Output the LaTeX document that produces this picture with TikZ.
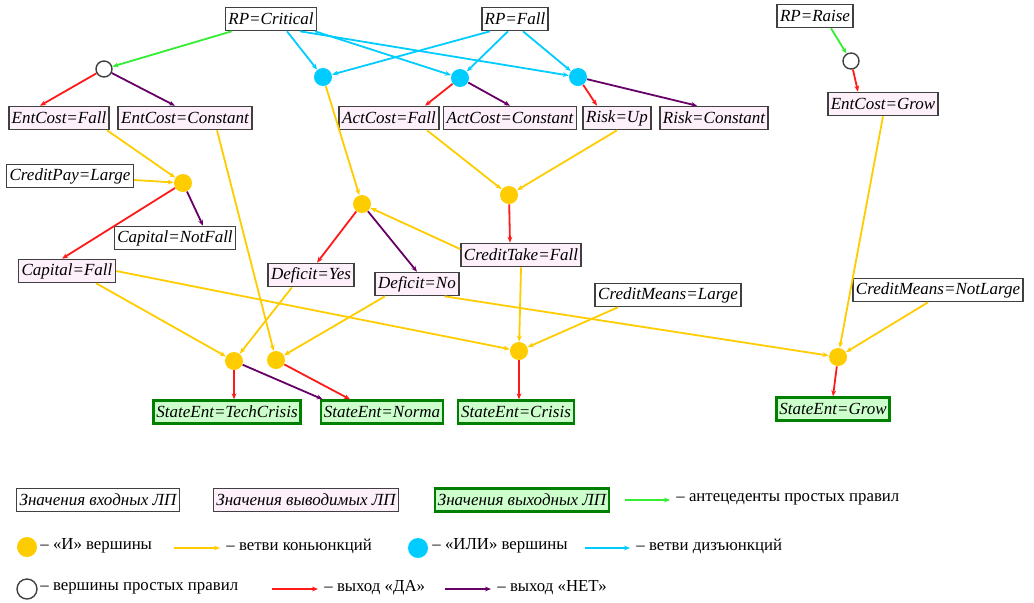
\documentclass[tikz,border=0pt]{standalone}
\usepackage{fontspec}
\setmainfont{Liberation Serif}
\usetikzlibrary{arrows.meta}
\definecolor{andcol}{HTML}{FFCC00}
\definecolor{orcol}{HTML}{00CCFF}
\definecolor{yescol}{HTML}{FF1A1A}
\definecolor{nocol}{HTML}{660066}
\definecolor{antcol}{HTML}{33EE33}
\definecolor{pinkfill}{HTML}{FDF0FB}
\definecolor{greenfill}{HTML}{CCFFCC}
\definecolor{greenline}{HTML}{008000}
\definecolor{boxline}{HTML}{404040}
\tikzstyle{lp}=[draw=boxline,line width=0.8pt,fill=white,inner xsep=1.5pt,inner ysep=0pt,minimum height=11.5pt,font=\fontsize{8.5}{10}\selectfont\itshape]
\tikzstyle{lpin}=[lp]
\tikzstyle{lpder}=[lp,fill=pinkfill]
\tikzstyle{lpout}=[lp,draw=greenline,line width=1.2pt,fill=greenfill]
\tikzstyle{andv}=[circle,fill=andcol,inner sep=0pt,minimum size=9pt]
\tikzstyle{orv}=[circle,fill=orcol,inner sep=0pt,minimum size=9pt]
\tikzstyle{simv}=[circle,draw=boxline,fill=white,line width=0.7pt,inner sep=0pt,minimum size=8pt]
\tikzstyle{br}=[line width=0.9pt,-{Stealth[length=3pt,width=2.4pt]}]
\tikzstyle{conj}=[br,andcol]
\tikzstyle{disj}=[br,orcol]
\tikzstyle{yesbr}=[br,yescol]
\tikzstyle{nobr}=[br,nocol]
\tikzstyle{antbr}=[br,antcol]
\tikzstyle{legtext}=[anchor=west,inner sep=0pt,font=\fontsize{8.4}{10}\selectfont]

\begin{document}
\begin{tikzpicture}[x=0.5pt,y=-0.5pt]
\useasboundingbox (0,0) rectangle (1034,602);
	% input values
	\node[lpin] (crit) at (271,19) {RP=Critical};
	\node[lpin] (fall) at (515,19) {RP=Fall};
	\node[lpin] (raise) at (815,16) {RP=Raise};
	\node[lpin] (crpay) at (70,176) {CreditPay=Large};
	\node[lpin] (capnf) at (175,238) {Capital=NotFall};
	\node[lpin] (cmlarge) at (668,295) {CreditMeans=Large};
	\node[lpin] (cmnl) at (938,290) {CreditMeans=NotLarge};
	% derived values
	\node[lpder] (entfall) at (59,118) {EntCost=Fall};
	\node[lpder] (entconst) at (185,118) {EntCost=Constant};
	\node[lpder] (actfall) at (389,118) {ActCost=Fall};
	\node[lpder] (actconst) at (510,118) {ActCost=Constant};
	\node[lpder] (riskup) at (617,118) {Risk=Up};
	\node[lpder] (riskconst) at (714,118) {Risk=Constant};
	\node[lpder] (entgrow) at (883,104) {EntCost=Grow};
	\node[lpder] (capfall) at (67,271) {Capital=Fall};
	\node[lpder] (defyes) at (311,275) {Deficit=Yes};
	\node[lpder] (defno) at (417,284) {Deficit=No};
	\node[lpder] (crtake) at (521,255) {CreditTake=Fall};
	% output values
	\node[lpout] (stTech) at (227,412) {StateEnt=TechCrisis};
	\node[lpout] (stNorm) at (382,412) {StateEnt=Norma};
	\node[lpout] (stCris) at (516,412) {StateEnt=Crisis};
	\node[lpout] (stGrow) at (833,409) {StateEnt=Grow};
	% vertices
	\node[simv] (s1) at (104,69) {};
	\node[simv] (s2) at (851,61) {};
	\node[orv] (or1) at (323,77) {};
	\node[orv] (or2) at (460,78) {};
	\node[orv] (or3) at (578,77) {};
	\node[andv] (and1) at (183,183) {};
	\node[andv] (and2) at (362,204) {};
	\node[andv] (and3) at (509,195) {};
	\node[andv] (and4) at (234,361) {};
	\node[andv] (and5) at (276,360) {};
	\node[andv] (and6) at (519,351) {};
	\node[andv] (and7) at (838,357) {};
	% simple rules
	\draw[antbr] ([xshift=3.5pt]crit.south west) -- (s1);
	\draw[antbr] ([xshift=8pt]raise.south) -- (s2);
	\draw[yesbr] (s1) -- ([xshift=-9.5pt]entfall.north);
	\draw[nobr] (s1) -- ([xshift=-5pt]entconst.north);
	\draw[yesbr] (s2) -- ([xshift=-12.5pt]entgrow.north);
	% disjunctions
	\draw[disj] ([xshift=8pt]crit.south) -- (or1);
	\draw[disj] ([xshift=22pt]crit.south) -- (or2);
	\draw[disj] ([xshift=14.5pt]crit.south) -- (or3);
	\draw[disj] ([xshift=-12.5pt]fall.south) -- (or1);
	\draw[disj] ([xshift=-3.5pt]fall.south) -- (or2);
	\draw[disj] ([xshift=4pt]fall.south) -- (or3);
	\draw[yesbr] (or2) -- ([xshift=18pt]actfall.north);
	\draw[nobr] (or2) -- (actconst.north);
	\draw[yesbr] (or3) -- ([xshift=-10pt]riskup.north);
	\draw[nobr] (or3) -- ([xshift=-8.5pt]riskconst.north);
	% conjunctions
	\draw[conj] ([xshift=-1.5pt]entfall.south east) -- (and1);
	\draw[conj] (crpay) -- (and1);
	\draw[yesbr] (and1) -- ([xshift=-2.5pt]capfall.north);
	\draw[nobr] (and1) -- ([xshift=14pt]capnf.north);
	\draw[conj] (or1) -- (and2);
	\draw[conj] ([yshift=3pt]crtake.west) -- (and2);
	\draw[yesbr] (and2) -- ([xshift=3pt]defyes.north);
	\draw[nobr] (and2) -- (defno.north);
	\draw[conj] ([xshift=19pt]actfall.south) -- (and3);
	\draw[conj] (riskup.south) -- (and3);
	\draw[yesbr] (and3) -- ([xshift=-5.5pt]crtake.north);
	\draw[conj] ([xshift=-10pt]capfall.south east) -- (and4);
	\draw[conj] ([xshift=-9.5pt]defyes.south) -- (and4);
	\draw[conj] ([xshift=16pt]entconst.south) -- (and5);
	\draw[conj] ([xshift=-16pt]defno.south) -- (and5);
	\draw[conj] (capfall.east) -- (and6);
	\draw[conj] (crtake.south) -- (and6);
	\draw[conj] ([xshift=-25pt]cmlarge.south) -- (and6);
	\draw[conj] ([xshift=-7.5pt]defno.south east) -- (and7);
	\draw[conj] (entgrow.south) -- (and7);
	\draw[conj] ([xshift=-5pt]cmnl.south) -- (and7);
	\draw[yesbr] (and4) -- ([xshift=3.5pt]stTech.north);
	\draw[nobr] (and4) -- ([xshift=1.5pt]stNorm.north west);
	\draw[yesbr] (and5) -- ([xshift=-16pt]stNorm.north);
	\draw[yesbr] (and6) -- ([xshift=1.5pt]stCris.north);
	\draw[yesbr] (and7) -- (stGrow.north);
	% legend
	\node[lpin] (lgin) at (98,500) {Значения входных ЛП};
	\node[lpder] (lgder) at (306,500) {Значения выводимых ЛП};
	\node[lpout] (lgout) at (522,500) {Значения выходных ЛП};
	\coordinate (lga1) at (625,500);
	\coordinate (lga2) at (670,500);
	\draw[antbr] (lga1) -- (lga2);
	\node[legtext] (lgant) at (676,499) {– антецеденты простых правил};
	\node[andv,minimum size=10pt] (lgand) at (27,547) {};
	\node[legtext] (lgandt) at (40,546) {– «И» вершины};
	\coordinate (lgc1) at (174,548);
	\coordinate (lgc2) at (220,548);
	\draw[conj] (lgc1) -- (lgc2);
	\node[legtext] (lgconj) at (226,546) {– ветви коньюнкций};
	\node[orv,minimum size=10pt] (lgor) at (418,548) {};
	\node[legtext] (lgort) at (432,546) {– «ИЛИ» вершины};
	\coordinate (lgd1) at (585,548);
	\coordinate (lgd2) at (630,548);
	\draw[disj] (lgd1) -- (lgd2);
	\node[legtext] (lgdisj) at (636,546) {– ветви дизъюнкций};
	\node[simv,minimum size=10pt] (lgsim) at (27,589) {};
	\node[legtext] (lgsimt) at (40,588) {– вершины простых правил};
	\coordinate (lgy1) at (272,589);
	\coordinate (lgy2) at (318,589);
	\draw[yesbr] (lgy1) -- (lgy2);
	\node[legtext] (lgyes) at (324,588) {– выход «ДА»};
	\coordinate (lgn1) at (445,589);
	\coordinate (lgn2) at (491,589);
	\draw[nobr] (lgn1) -- (lgn2);
	\node[legtext] (lgno) at (497,588) {– выход «НЕТ»};
\end{tikzpicture}
\end{document}
